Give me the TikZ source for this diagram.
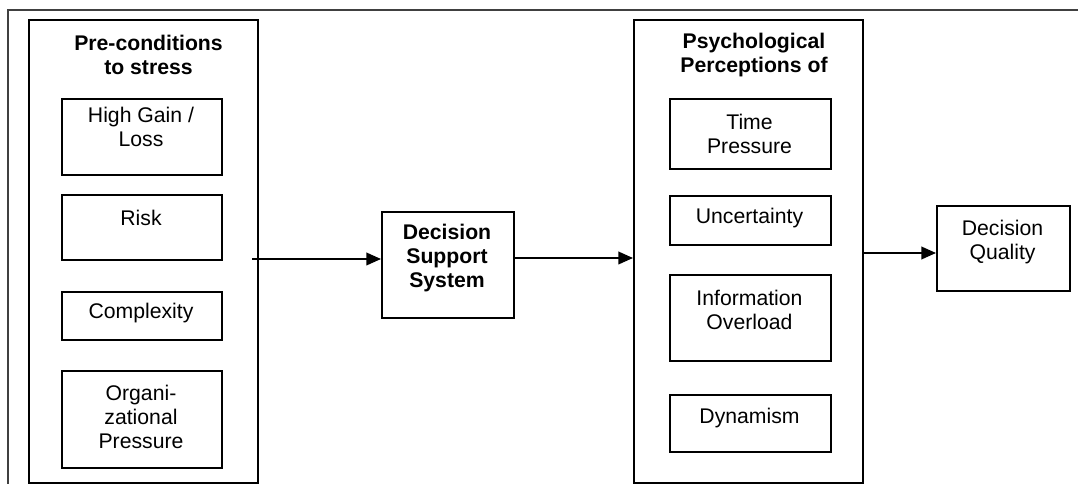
\documentclass[tikz,border=0pt]{standalone}
\usepackage{fontspec}
\setmainfont{Liberation Sans}
\usetikzlibrary{arrows.meta}
\begin{document}
\begin{tikzpicture}[x=0.75pt,y=-0.75pt,
  box/.style={draw=black,line width=1.4pt,rectangle,inner sep=0pt,anchor=north west},
  txt/.style={align=center,inner sep=0pt,font=\fontsize{15.9}{18}\selectfont},
  btxt/.style={txt,font=\fontsize{15.9}{18}\selectfont\bfseries},
  frame/.style={draw=black!75,line width=0.8pt},
  arr/.style={draw=black,line width=1.3pt,-{Triangle[length=11pt,width=9.5pt]}}]
\useasboundingbox (0,0) rectangle (1078,484);
% frame
\coordinate (fTL) at (8,10);
\coordinate (fTR) at (1078,10);
\coordinate (fBL) at (8,484);
\draw[frame] (fTR) -- (fTL) -- (fBL);
% left group
\node[box,minimum width=229*0.75pt,minimum height=463*0.75pt] (outL) at (28,19) {};
\node[btxt] (titL) at (148.5,55) {Pre-conditions\\to stress};
\node[box,minimum width=160*0.75pt,minimum height=76*0.75pt] (b1) at (61,98) {};
\node[txt] (t1) at (141,127) {High Gain /\\Loss};
\node[box,minimum width=160*0.75pt,minimum height=65*0.75pt] (b2) at (61,194) {};
\node[txt] (t2) at (141,218) {Risk};
\node[box,minimum width=160*0.75pt,minimum height=48*0.75pt] (b3) at (61,291) {};
\node[txt] (t3) at (141,313) {Complexity};
\node[box,minimum width=160*0.75pt,minimum height=97*0.75pt] (b4) at (61,370) {};
\node[txt] (t4) at (141,417) {Organi-\\zational\\Pressure};
% DSS
\node[box,minimum width=132*0.75pt,minimum height=106*0.75pt] (dss) at (381,211) {};
\node[btxt] (tdss) at (447,258) {Decision\\Support\\System};
% right group
\node[box,minimum width=229*0.75pt,minimum height=463*0.75pt] (outR) at (633,19) {};
\node[btxt] (titR) at (754,55) {Psychological\\Perceptions of};
\node[box,minimum width=161*0.75pt,minimum height=70*0.75pt] (r1) at (669,98) {};
\node[txt] (s1) at (749.5,134) {Time\\Pressure};
\node[box,minimum width=161*0.75pt,minimum height=49*0.75pt] (r2) at (669,195) {};
\node[txt] (s2) at (749.5,218) {Uncertainty};
\node[box,minimum width=161*0.75pt,minimum height=86*0.75pt] (r3) at (669,274) {};
\node[txt] (s3) at (749.5,310) {Information\\Overload};
\node[box,minimum width=161*0.75pt,minimum height=57*0.75pt] (r4) at (669,394) {};
\node[txt] (s4) at (749.5,418) {Dynamism};
% decision quality
\node[box,minimum width=133*0.75pt,minimum height=85*0.75pt] (dq) at (936,205) {};
\node[txt] (tdq) at (1002.5,242) {Decision\\Quality};
% connectors
\coordinate (a1s) at (252,259);
\coordinate (a2s) at (513,258);
\coordinate (a3s) at (862,253);
\draw[arr] (a1s) -- (dss.west |- a1s);
\draw[arr] (a2s) -- (outR.west |- a2s);
\draw[arr] (a3s) -- (dq.west |- a3s);
\end{tikzpicture}
\end{document}
